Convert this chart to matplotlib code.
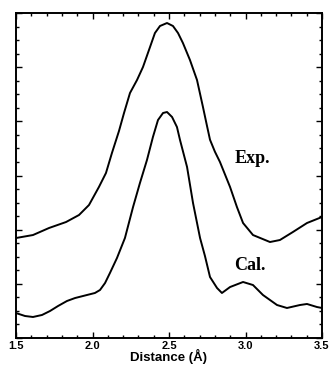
import matplotlib
matplotlib.use("Agg")
import matplotlib.pyplot as plt
from matplotlib.ticker import MultipleLocator

exp_x = [1.500, 1.611, 1.716, 1.827, 1.912, 1.977, 2.042, 2.088, 2.127, 2.173, 2.206, 2.245,
         2.291, 2.330, 2.376, 2.408, 2.441, 2.487, 2.526, 2.559, 2.591, 2.637, 2.683, 2.722,
         2.748, 2.768, 2.800, 2.833, 2.899, 2.944, 2.984, 3.049, 3.160, 3.225, 3.310, 3.402, 3.500]
exp_y = [1.846, 1.901, 2.031, 2.141, 2.271, 2.455, 2.788, 3.046, 3.415, 3.821, 4.154, 4.523,
         4.763, 5.003, 5.372, 5.630, 5.760, 5.815, 5.760, 5.630, 5.446, 5.132, 4.763, 4.264,
         3.920, 3.660, 3.440, 3.250, 2.788, 2.418, 2.123, 1.901, 1.772, 1.809, 1.957, 2.123, 2.234]

cal_x = [1.500, 1.559, 1.611, 1.670, 1.722, 1.775, 1.833, 1.886, 1.964, 2.016, 2.049, 2.082,
         2.114, 2.160, 2.212, 2.265, 2.310, 2.356, 2.395, 2.428, 2.461, 2.487, 2.520, 2.552,
         2.572, 2.618, 2.657, 2.703, 2.735, 2.768, 2.814, 2.846, 2.899, 2.984, 3.049, 3.114,
         3.206, 3.271, 3.356, 3.402, 3.467, 3.500]
cal_y = [0.461, 0.406, 0.388, 0.425, 0.498, 0.591, 0.683, 0.738, 0.794, 0.831, 0.886, 1.015,
         1.200, 1.477, 1.846, 2.418, 2.861, 3.286, 3.711, 4.024, 4.154, 4.172, 4.080, 3.895,
         3.655, 3.157, 2.492, 1.846, 1.514, 1.126, 0.923, 0.831, 0.941, 1.034, 0.978, 0.794,
         0.609, 0.554, 0.609, 0.628, 0.572, 0.554]

x_ticks = [1.5, 2.0, 2.5, 3.0, 3.5]
x_tick_labels = ["1.5", "2.0", "2.5", "3.0", "3.5"]

fig = plt.figure(figsize=(3.31, 3.71), dpi=100)
ax = fig.add_axes([16/331, 1 - 338/371, 306/331, 325/371])

ax.plot(exp_x, exp_y, color="black", lw=1.4, solid_joinstyle="round")
ax.plot(cal_x, cal_y, color="black", lw=1.4, solid_joinstyle="round")

ax.set_xlim(1.5, 3.5)
ax.set_ylim(0, 6)
ax.set_xticks(x_ticks)
ax.set_xticklabels(x_tick_labels, fontfamily="Liberation Sans", fontweight="bold", fontsize=8)
ax.xaxis.set_minor_locator(MultipleLocator(0.1))
ax.yaxis.set_major_locator(MultipleLocator(1))
ax.yaxis.set_minor_locator(MultipleLocator(0.25))
ax.set_yticklabels([])
ax.tick_params(which="both", direction="in", top=True, right=True, width=1.0, color="black")
ax.tick_params(which="major", length=4, pad=2)
ax.tick_params(which="minor", length=2.2)
for s in ax.spines.values():
    s.set_linewidth(1.4)

ax.set_xlabel("Distance (Å)", fontfamily="Liberation Sans", fontweight="bold", fontsize=9.5, labelpad=-1)

ax.text(3.042, 3.32, "Exp.", fontfamily="Liberation Serif", fontweight="bold", fontsize=13,
        ha="center", va="center")
ax.text(3.03, 1.33, "Cal.", fontfamily="Liberation Serif", fontweight="bold", fontsize=13,
        ha="center", va="center")

fig.savefig("out.png", dpi=100)
